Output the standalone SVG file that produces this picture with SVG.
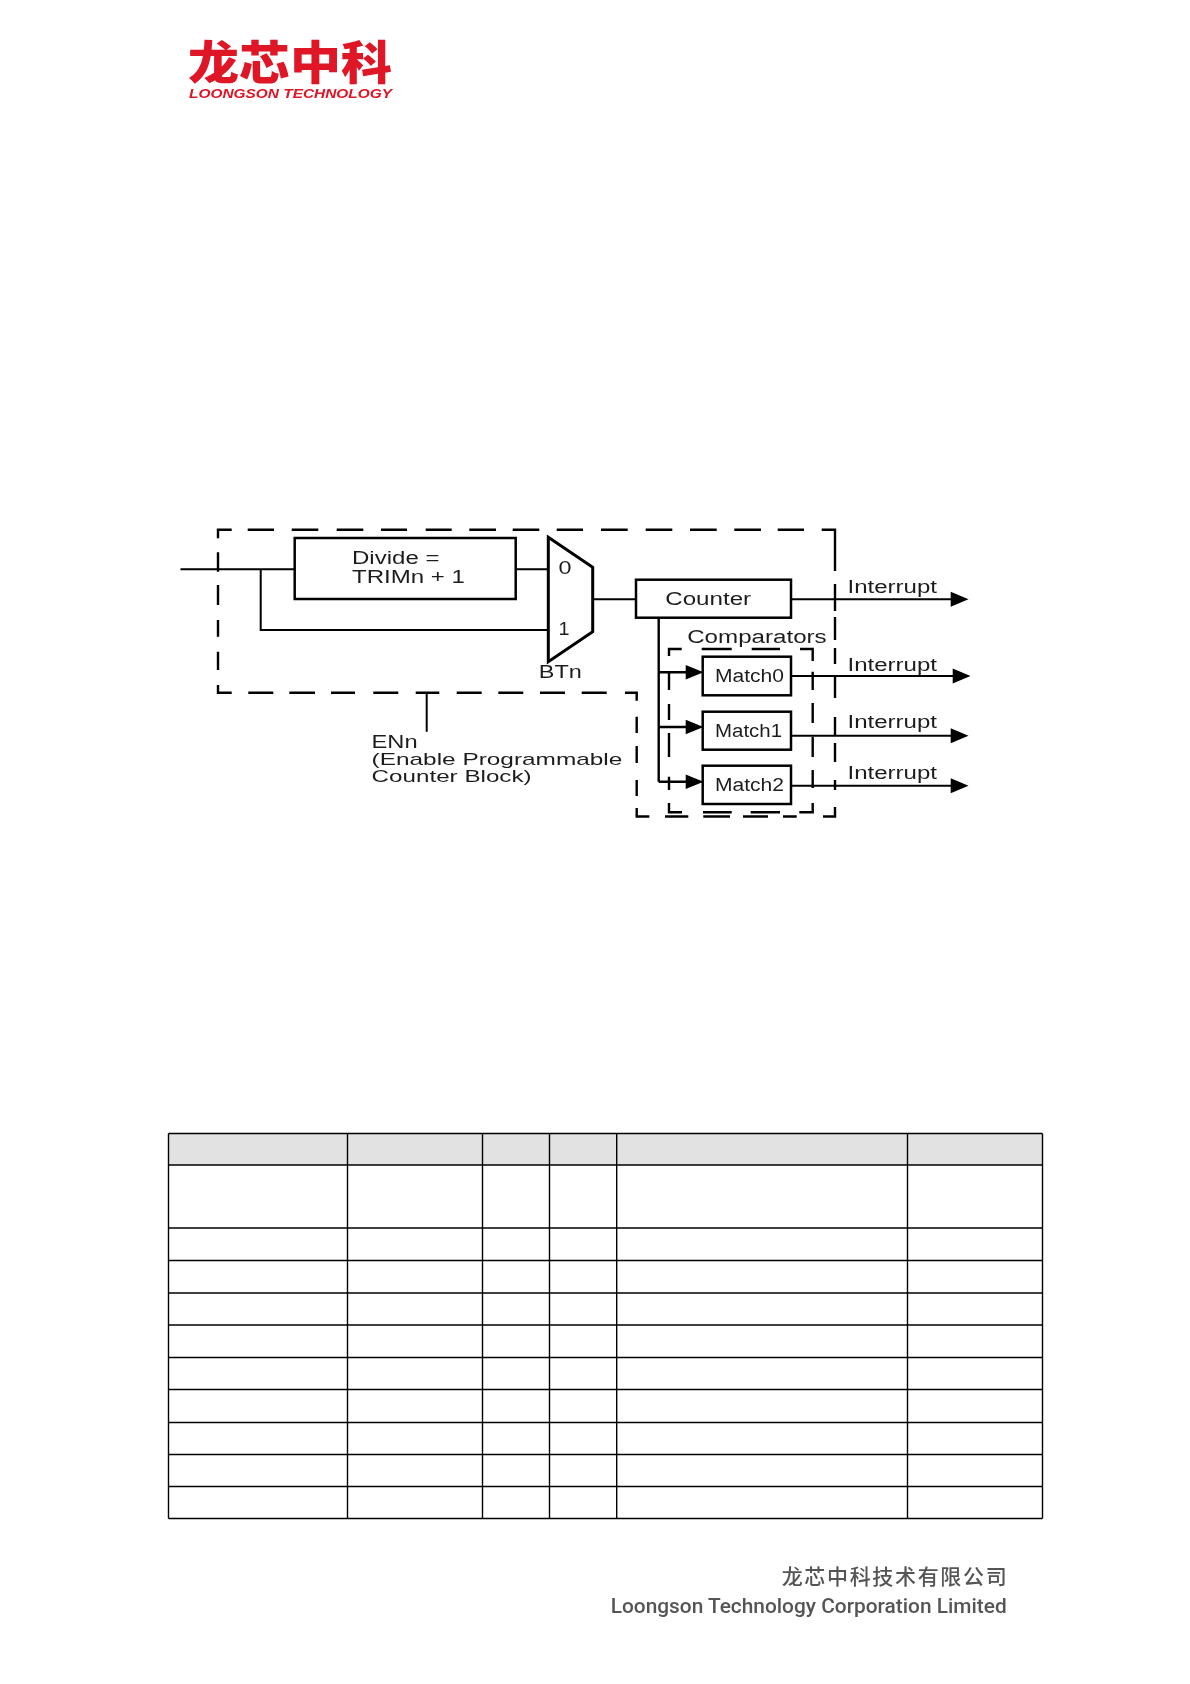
<svg xmlns="http://www.w3.org/2000/svg" width="1190" height="1684" viewBox="0 0 1190 1684">
<defs>
<style>
.box{fill:#fff;stroke:#000;stroke-width:2.5}
.wire{fill:none;stroke:#000;stroke-width:2}
.dash{fill:none;stroke:#000;stroke-width:2.4}
.grid{fill:none;stroke:#000;stroke-width:1.4}
.t{font-family:"Liberation Sans",Arial,sans-serif;font-size:18px;fill:#1f1f1f}
.s{font-size:17px}
.head{fill:#000;stroke:none}
</style>
<filter id="soft" x="-5%" y="-20%" width="110%" height="140%"><feGaussianBlur stdDeviation="0.35"/></filter>
<filter id="softer" x="-5%" y="-20%" width="110%" height="140%"><feGaussianBlur stdDeviation="0.5"/></filter>
</defs>
<rect width="1190" height="1684" fill="#fff"/>

<g id="logo" filter="url(#soft)">
<text x="188" y="79" font-family="'Noto Sans CJK SC',sans-serif" font-weight="900" font-size="46" fill="#df1225" textLength="204" lengthAdjust="spacingAndGlyphs">龙芯中科</text>
<text x="189" y="97.5" font-family="'Liberation Sans',Arial,sans-serif" font-weight="700" font-style="italic" font-size="13" fill="#df1225" textLength="203" lengthAdjust="spacingAndGlyphs">LOONGSON TECHNOLOGY</text>
</g>

<g id="diagram" filter="url(#soft)">
<g id="connectors">
<path class="wire" d="M180.5 569.3H295M260.7 569.3V630H548.3M515.7 569.3H548.3M592.7 599.3H636M426.7 692.7V731.7"/>
<path class="wire" d="M791 599.3H952M791 676H953M791 735.7H952M791 785.7H952"/>
<path class="wire" style="stroke-width:2.4" d="M658.7 617.7V781.7M658.7 672.3H688M658.7 727H688M658.7 781.7H688"/>
<path class="head" d="M950.7 591.8L968.5 599.3L950.7 606.8ZM952.7 668.5L970.5 676L952.7 683.5ZM950.7 728.2L968.5 735.7L950.7 743.2ZM950.7 778.2L968.5 785.7L950.7 793.2Z"/>
<path class="head" d="M685.7 665L703.5 672.3L685.7 679.6ZM685.7 719.7L703.5 727L685.7 734.3ZM685.7 774.4L703.5 781.7L685.7 789Z"/>
</g>

<g id="enable-region">
<path class="dash" d="M231.7 529.7H218V538.3M218 552.3V571.7M218 585V605M218 620V636.7M218 651.7V670M218 685V692.7H231.7"/>
<path class="dash" d="M247.7 529.7H274M291.7 529.7H318.3M336.7 529.7H363.3M381 529.7H407M425.7 529.7H451.7M469.3 529.7H496M512.7 529.7H539.3M556.7 529.7H583M601 529.7H627.7M645.7 529.7H672.3M690 529.7H716.7M734.3 529.7H761M777.7 529.7H804M821.7 529.7H835V571"/>
<path class="dash" d="M835 584V611M835 617V640M835 648V664M835 677V698M835 717V735M835 743V762M835 780V790M835 807V816.5H823"/>
<path class="dash" d="M248.3 692.7H273.3M289.3 692.7H315M331 692.7H355M373.3 692.7H398.3M415.7 692.7H439.3M456.7 692.7H481.7M498.3 692.7H523.3M540 692.7H565M581.7 692.7H606.7M625 692.7H636.7V700.7M636.7 716.7V733M636.7 746V763M636.7 780V796M636.7 808V816.5H649.3"/>
<path class="dash" d="M665 816.5H688.3M703.3 816.5H730M743 816.5H768M783 816.5H796.7"/>
</g>

<g id="comparators">
<path class="dash" d="M681.7 649H669V656M669 673V690M669 704V720M669 733V757M669 776.7V790M669 803V812.3H682"/>
<path class="dash" d="M701.7 649H731.7M751.7 649H780M800 649H812.7V661M812.7 671.7V690M812.7 703V723M812.7 737V757M812.7 770V788M812.7 803V812.3H799.3"/>
<path class="dash" d="M703 812.3H731.7M750.7 812.3H780"/>
<text class="t" x="687.2" y="642.7" textLength="139.5" lengthAdjust="spacingAndGlyphs">Comparators</text>
</g>

<g id="divide">
<rect class="box" x="294.7" y="538" width="221" height="61"/>
<text class="t" x="352" y="564" textLength="87.5" lengthAdjust="spacingAndGlyphs">Divide =</text>
<text class="t" x="352" y="582.7" textLength="113" lengthAdjust="spacingAndGlyphs">TRIMn + 1</text>
</g>

<g id="mux">
<path d="M548.3 537.3L592.7 567.3V631.7L548.3 661.7Z" fill="#fff" stroke="#000" stroke-width="3"/>
<text class="t" x="558.5" y="574" textLength="13" lengthAdjust="spacingAndGlyphs">0</text>
<text class="t" x="558.5" y="635" textLength="11" lengthAdjust="spacingAndGlyphs">1</text>
<text class="t" x="538.8" y="678.3" textLength="43" lengthAdjust="spacingAndGlyphs">BTn</text>
</g>

<g id="counter">
<rect class="box" x="636" y="579.7" width="155" height="38"/>
<text class="t" x="665.2" y="605" textLength="86" lengthAdjust="spacingAndGlyphs">Counter</text>
</g>
<g id="match0">
<rect class="box" x="702.7" y="656.7" width="88.3" height="38.6"/>
<text class="t" x="715" y="681.7" textLength="69" lengthAdjust="spacingAndGlyphs">Match0</text>
</g>
<g id="match1">
<rect class="box" x="702.7" y="711.7" width="88.3" height="38"/>
<text class="t" x="715" y="736.7" textLength="67" lengthAdjust="spacingAndGlyphs">Match1</text>
</g>
<g id="match2">
<rect class="box" x="702.7" y="765.7" width="88.3" height="38.3"/>
<text class="t" x="715" y="791" textLength="69" lengthAdjust="spacingAndGlyphs">Match2</text>
</g>

<g id="labels">
<text class="t" x="847.5" y="593.3" textLength="89.5" lengthAdjust="spacingAndGlyphs">Interrupt</text>
<text class="t" x="847.5" y="670.7" textLength="89.5" lengthAdjust="spacingAndGlyphs">Interrupt</text>
<text class="t" x="847.5" y="728.3" textLength="89.5" lengthAdjust="spacingAndGlyphs">Interrupt</text>
<text class="t" x="847.5" y="779" textLength="89.5" lengthAdjust="spacingAndGlyphs">Interrupt</text>
<text class="t" x="371.6" y="747.7" textLength="46" lengthAdjust="spacingAndGlyphs">ENn</text>
<text class="t s" x="371.6" y="765.2" textLength="250.7" lengthAdjust="spacingAndGlyphs">(Enable Programmable</text>
<text class="t s" x="371.6" y="782.3" textLength="160" lengthAdjust="spacingAndGlyphs">Counter Block)</text>
</g>
</g>

<g id="table">
<rect x="168.5" y="1133.5" width="874" height="31.5" fill="#e2e2e2"/>
<path class="grid" d="M168.5 1133.5H1042.5M168.5 1165H1042.5M168.5 1228H1042.5M168.5 1260.5H1042.5M168.5 1293H1042.5M168.5 1325H1042.5M168.5 1357.5H1042.5M168.5 1389.5H1042.5M168.5 1422.5H1042.5M168.5 1454.5H1042.5M168.5 1486.5H1042.5M168.5 1518.5H1042.5"/>
<path class="grid" d="M168.5 1133.5V1518.5M347.5 1133.5V1518.5M482.5 1133.5V1518.5M549.5 1133.5V1518.5M616.7 1133.5V1518.5M907.5 1133.5V1518.5M1042.5 1133.5V1518.5"/>
</g>

<g id="footer" filter="url(#softer)">
<text x="781.7" y="1584" font-family="'Noto Sans CJK SC',sans-serif" font-weight="500" font-size="21" fill="#555" textLength="225">龙芯中科技术有限公司</text>
<text x="610.7" y="1613" font-family="Roboto,'Liberation Sans',sans-serif" font-weight="500" font-size="20" fill="#555" textLength="396" lengthAdjust="spacingAndGlyphs">Loongson Technology Corporation Limited</text>
</g>
</svg>
